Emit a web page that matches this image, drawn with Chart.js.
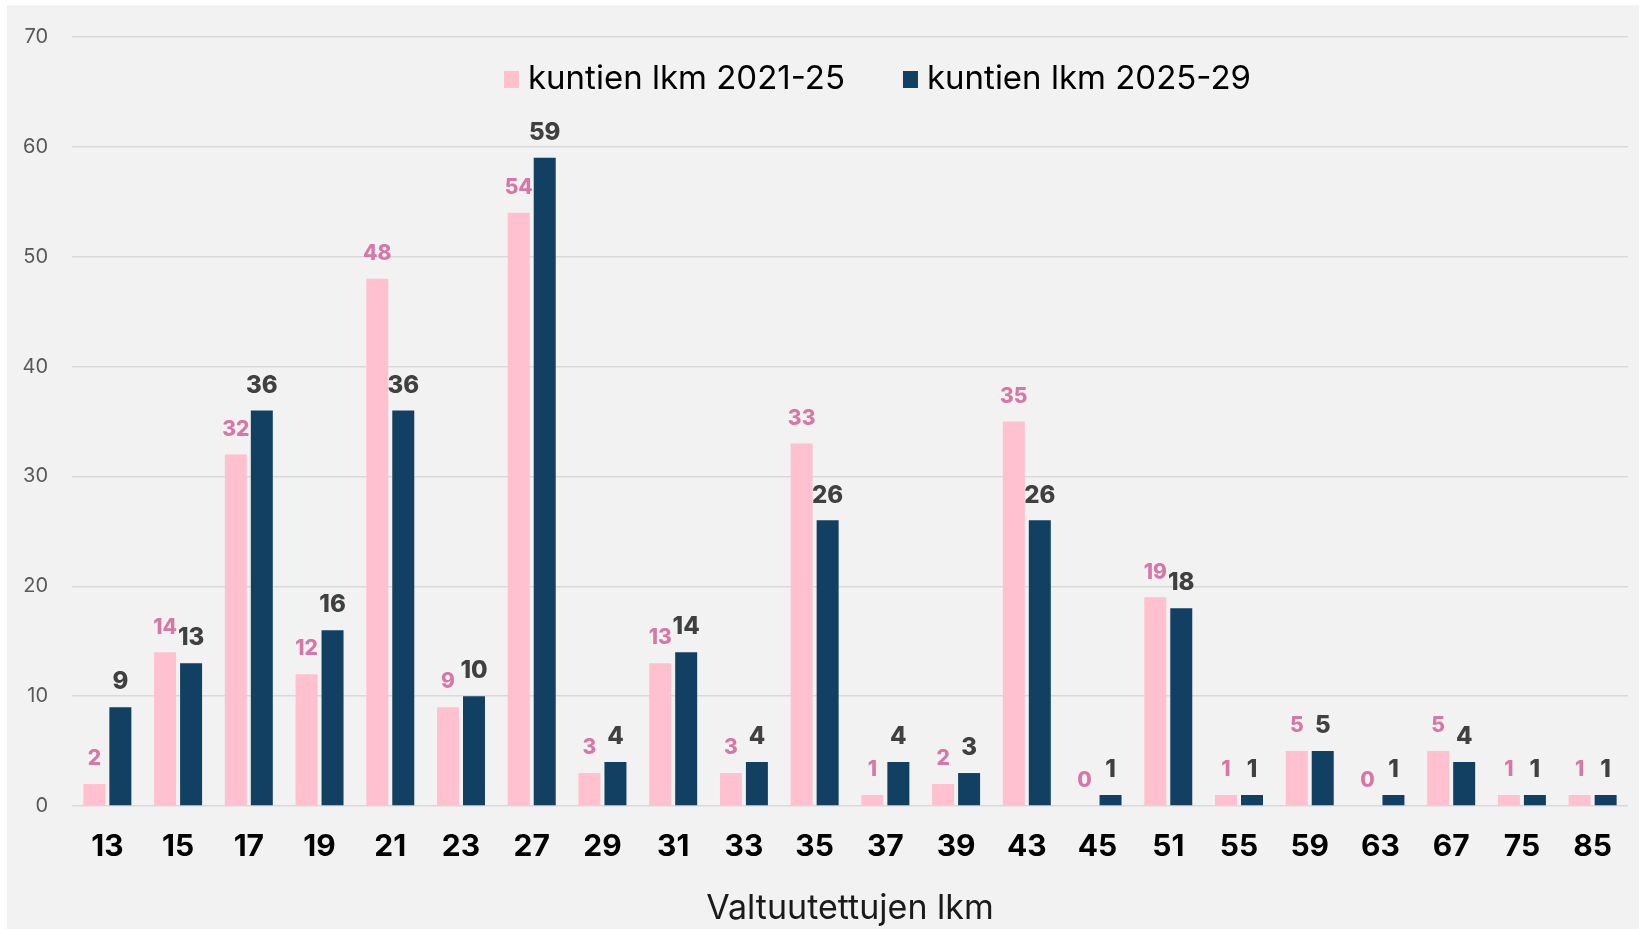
<!DOCTYPE html>
<html>
<head>
<meta charset="utf-8">
<script src="https://cdn.jsdelivr.net/npm/chart.js@4.4.1/dist/chart.umd.min.js"></script>
<style>
  html, body { margin: 0; padding: 0; background: #ffffff; }
  #wrap { position: absolute; left: 7px; top: 5px; width: 1632px; height: 924px; background: #f2f2f2; }
</style>
</head>
<body>
<div id="wrap"><canvas id="chart"></canvas></div>
<script>
// ── Data ──────────────────────────────────────────────────────────────
var categories = ['13', '15', '17', '19', '21', '23', '27', '29', '31', '33', '35',
                  '37', '39', '43', '45', '51', '55', '59', '63', '67', '75', '85'];
var kunnat2021 = [2, 14, 32, 12, 48, 9, 54, 3, 13, 3, 33, 1, 2, 35, 0, 19, 1, 5, 0, 5, 1, 1];
var kunnat2025 = [9, 13, 36, 16, 36, 10, 59, 4, 14, 4, 26, 4, 3, 26, 1, 18, 1, 5, 1, 4, 1, 1];
var yTicks = [0, 10, 20, 30, 40, 50, 60, 70];
var seriesNames = ['kuntien lkm 2021-25', 'kuntien lkm 2025-29'];
var axisTitle = 'Valtuutettujen lkm';

var FONT = 'Inter, "Open Sans", sans-serif';
var PINK = '#ffc0cf';
var NAVY = '#114062';

// ── Value labels above bars ───────────────────────────────────────────
var barLabels = {
    id: 'barLabels',
    afterDatasetsDraw: function(chart) {
        var ctx = chart.ctx;
        chart.data.datasets.forEach(function(ds, i) {
            var meta = chart.getDatasetMeta(i);
            ctx.save();
            ctx.font = '800 ' + ds.labelSize + 'px ' + FONT;
            ctx.fillStyle = ds.labelColor;
            ctx.textAlign = 'center';
            ctx.textBaseline = 'middle';
            meta.data.forEach(function(bar, j) {
                ctx.fillText(String(ds.data[j]), bar.x, bar.y - 25);
            });
            ctx.restore();
        });
    }
};

// ── Legend drawn inside the plot area ─────────────────────────────────
var innerLegend = {
    id: 'innerLegend',
    afterDraw: function(chart) {
        var ctx = chart.ctx;
        var x = 497, y = 74;
        ctx.save();
        ctx.font = '33px ' + FONT;
        ctx.textBaseline = 'middle';
        ctx.textAlign = 'left';
        chart.data.datasets.forEach(function(ds) {
            ctx.fillStyle = ds.backgroundColor;
            ctx.fillRect(x, y - 8, 15, 17);
            ctx.fillStyle = '#000000';
            ctx.fillText(ds.label, x + 24, y);
            x += 24 + ctx.measureText(ds.label).width + 58;
        });
        ctx.restore();
    }
};

new Chart(document.getElementById('chart'), {
    type: 'bar',
    data: {
        labels: categories,
        datasets: [
            {
                label: seriesNames[0],
                data: kunnat2021,
                backgroundColor: PINK,
                labelColor: '#d677a6',
                labelSize: 21,
                categoryPercentage: 0.735,
                barPercentage: 0.846
            },
            {
                label: seriesNames[1],
                data: kunnat2025,
                backgroundColor: NAVY,
                labelColor: '#404040',
                labelSize: 24,
                categoryPercentage: 0.735,
                barPercentage: 0.846
            }
        ]
    },
    options: {
        responsive: true,
        maintainAspectRatio: false,
        animation: false,
        layout: { padding: { top: 32, right: 11, bottom: 0, left: 0 } },
        plugins: {
            legend: { display: false },
            tooltip: { enabled: false }
        },
        scales: {
            x: {
                grid: { display: false, drawTicks: false },
                border: { display: false },
                ticks: {
                    color: '#000000',
                    padding: 23,
                    font: { family: FONT, size: 30, weight: 'bold' }
                },
                title: {
                    display: true,
                    text: axisTitle,
                    color: '#1a1a1a',
                    padding: { top: 12, bottom: 0 },
                    font: { family: FONT, size: 34 }
                },
                afterFit: function(scale) { scale.height = 123; }
            },
            y: {
                min: 0,
                max: 70,
                afterBuildTicks: function(scale) {
                    scale.ticks = yTicks.map(function(v) { return { value: v }; });
                },
                grid: { color: '#d9d9d9', lineWidth: 1.5, drawTicks: false },
                border: { display: false },
                ticks: {
                    color: '#595959',
                    padding: 24,
                    font: { family: FONT, size: 20 }
                },
                afterFit: function(scale) {
                    scale.width = 65;
                    scale.paddingTop = 0;
                    scale.paddingBottom = 0;
                }
            }
        }
    },
    plugins: [barLabels, innerLegend]
});
</script>
</body>
</html>
